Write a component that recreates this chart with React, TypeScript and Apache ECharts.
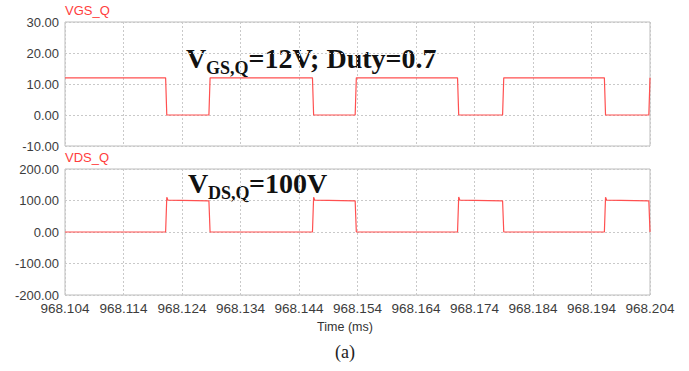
import React, { useEffect, useRef } from "react";
import * as echarts from "echarts";

// Time axis (ms)
const T0 = 968.104;
const T1 = 968.204;
const xTickStepUs = 10; // tick spacing in microseconds (0.01 ms)

// VGS_Q waveform (time in ms, value in V)
const vgsTime = [
  968.104, 968.1212, 968.1214, 968.1286, 968.1288, 968.1463, 968.1465, 968.1536,
  968.1538, 968.1711, 968.1713, 968.1788, 968.179, 968.1962, 968.1964, 968.2038, 968.204,
];
const vgsValue = [12, 12, 0, 0, 12, 12, 0, 0, 12, 12, 0, 0, 12, 12, 0, 0, 12];

// VDS_Q waveform (time in ms, value in V)
const vdsTime = [
  968.104, 968.1212, 968.1214, 968.1216, 968.1286, 968.1288,
  968.1463, 968.1465, 968.1467, 968.1536, 968.1538,
  968.1711, 968.1713, 968.1715, 968.1788, 968.179,
  968.1962, 968.1964, 968.1966, 968.2038, 968.204,
];
const vdsValue = [
  0, 0, 110, 101, 99, 0,
  0, 110, 101, 99, 0,
  0, 111, 101, 99, 0,
  0, 110, 101, 99, 0,
];

// Axis ranges
const vgsRange = [-10, 30, 10];
const vdsRange = [-200, 200, 100];

const RED = "#ff5050";
const GRID_LINE = "#c9c9c9";
const BORDER = "#bdbdbd";
const LABEL = "#3c3c3c";
const SANS = "Liberation Sans, Arial, sans-serif";
const SERIF = "Liberation Serif, Times New Roman, serif";

function toPoints(times: number[], values: number[]) {
  return times.map((t, i) => [(t - T0) * 1000, values[i]]);
}

export default function App() {
  const ref = useRef<HTMLDivElement>(null);

  useEffect(() => {
    if (!ref.current) return;
    const chart = echarts.init(ref.current, undefined, { renderer: "svg" });
    const splitLine = { show: true, lineStyle: { color: GRID_LINE, type: [2, 2] as any, width: 1 } };
    const yLabel = {
      color: LABEL,
      fontSize: 13,
      fontFamily: SANS,
      margin: 6,
      formatter: (v: number) => v.toFixed(2),
    };
    const xBase = {
      type: "value" as const,
      min: 0,
      max: (T1 - T0) * 1000,
      interval: xTickStepUs,
      axisLine: { show: false },
      axisTick: { show: false },
      splitLine,
    };
    const bold = (size: number) => `bold ${size}px ${SERIF}`;
    chart.setOption({
      animation: false,
      grid: [
        { left: 65, top: 22, width: 585, height: 124, show: true, borderColor: BORDER, borderWidth: 1 },
        { left: 65, top: 169, width: 585, height: 126, show: true, borderColor: BORDER, borderWidth: 1 },
      ],
      xAxis: [
        { ...xBase, gridIndex: 0, axisLabel: { show: false } },
        {
          ...xBase,
          gridIndex: 1,
          axisLabel: {
            color: LABEL,
            fontSize: 13.5,
            fontFamily: SANS,
            margin: 6,
            formatter: (v: number) => (T0 + v / 1000).toFixed(3),
          },
        },
      ],
      yAxis: [
        {
          type: "value",
          gridIndex: 0,
          min: vgsRange[0],
          max: vgsRange[1],
          interval: vgsRange[2],
          axisLine: { show: false },
          axisTick: { show: false },
          axisLabel: yLabel,
          splitLine,
        },
        {
          type: "value",
          gridIndex: 1,
          min: vdsRange[0],
          max: vdsRange[1],
          interval: vdsRange[2],
          axisLine: { show: false },
          axisTick: { show: false },
          axisLabel: yLabel,
          splitLine,
        },
      ],
      series: [
        {
          name: "VGS_Q",
          type: "line",
          xAxisIndex: 0,
          yAxisIndex: 0,
          showSymbol: false,
          lineStyle: { color: RED, width: 1.2 },
          data: toPoints(vgsTime, vgsValue),
        },
        {
          name: "VDS_Q",
          type: "line",
          xAxisIndex: 1,
          yAxisIndex: 1,
          showSymbol: false,
          lineStyle: { color: RED, width: 1.2 },
          data: toPoints(vdsTime, vdsValue),
        },
      ],
      graphic: [
        { type: "text", left: 65, top: 4, style: { text: "VGS_Q", fill: "#ff3d3d", font: `13px ${SANS}` } },
        { type: "text", left: 65, top: 151, style: { text: "VDS_Q", fill: "#ff3d3d", font: `13px ${SANS}` } },
        // V_GS,Q=12V; Duty=0.7
        { type: "text", x: 186, y: 58.5, style: { text: "V", fill: "#111", font: bold(28), verticalAlign: "middle" } },
        { type: "text", x: 206, y: 67.5, style: { text: "GS,Q", fill: "#111", font: bold(18), verticalAlign: "middle" } },
        { type: "text", x: 248.5, y: 58.5, style: { text: "=12V; Duty=0.7", fill: "#111", font: bold(28), verticalAlign: "middle" } },
        // V_DS,Q=100V
        { type: "text", x: 188, y: 183.5, style: { text: "V", fill: "#111", font: bold(28), verticalAlign: "middle" } },
        { type: "text", x: 208, y: 192.5, style: { text: "DS,Q", fill: "#111", font: bold(18), verticalAlign: "middle" } },
        { type: "text", x: 249, y: 183.5, style: { text: "=100V", fill: "#111", font: bold(28), verticalAlign: "middle" } },
        // axis title and caption
        { type: "text", x: 345, y: 327, style: { text: "Time (ms)", fill: "#333", font: `12.5px ${SANS}`, align: "center", verticalAlign: "middle" } },
        { type: "text", x: 345, y: 352, style: { text: "(a)", fill: "#222", font: `18px ${SERIF}`, align: "center", verticalAlign: "middle" } },
      ],
    });
    return () => chart.dispose();
  }, []);

  return (
    <div
      ref={ref}
      style={{ position: "fixed", left: 0, top: 0, width: 689, height: 371, background: "#fff" }}
    />
  );
}
